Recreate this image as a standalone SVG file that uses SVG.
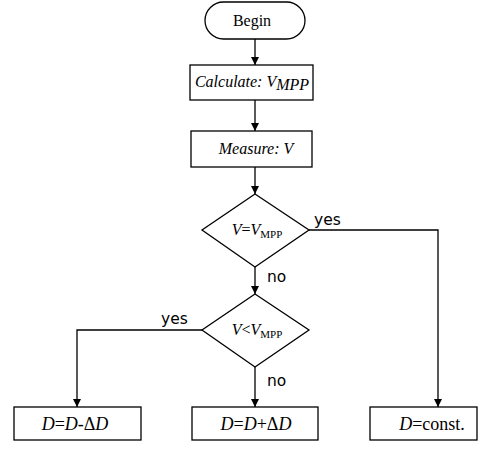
<svg xmlns="http://www.w3.org/2000/svg" width="501" height="450" viewBox="0 0 501 450">
<defs>
<marker id="ah" viewBox="0 0 10 10" refX="10" refY="5" markerWidth="8" markerHeight="8" markerUnits="userSpaceOnUse" orient="auto">
<path d="M0,0 L10,5 L0,10 z" fill="#000"/>
</marker>
<style>
.shape{fill:#fff;stroke:#000;stroke-width:1.3}
.edge{fill:none;stroke:#000;stroke-width:1.3;marker-end:url(#ah)}
.t{font-family:"Liberation Serif","Times New Roman",serif;font-size:16px;fill:#000}
.b{font-size:18px}
.i{font-style:italic}
.lbl{font-family:"DejaVu Sans",sans-serif;font-size:15.5px;fill:#000}
</style>
</defs>
<g id="connectors">
<line class="edge" x1="255" y1="39" x2="255" y2="65"/>
<line class="edge" x1="255" y1="100" x2="255" y2="131"/>
<line class="edge" x1="255" y1="167" x2="255" y2="194"/>
<line class="edge" x1="255" y1="267" x2="255" y2="294"/>
<line class="edge" x1="255" y1="367" x2="255" y2="407"/>
<polyline class="edge" points="309,230 438,230 438,407"/>
<polyline class="edge" points="202,330 77,330 77,407"/>
<text class="lbl" x="314" y="225">yes</text>
<text class="lbl" x="267" y="282">no</text>
<text class="lbl" x="161" y="324">yes</text>
<text class="lbl" x="267" y="386">no</text>
</g>
<g id="begin">
<rect class="shape" x="205" y="2" width="100" height="37" rx="18.5" ry="18.5"/>
<text class="t" x="252" y="26" text-anchor="middle" font-size="17">Begin</text>
</g>
<g id="calculate">
<rect class="shape" x="190" y="65" width="123" height="35"/>
<text class="t i" x="252" y="87" text-anchor="middle">Calculate: V<tspan dy="3">MPP</tspan></text>
</g>
<g id="measure">
<rect class="shape" x="191" y="131" width="121" height="36"/>
<text class="t i" x="256" y="154" text-anchor="middle">Measure: V</text>
</g>
<g id="cond1">
<polygon class="shape" points="255,194 309,230 255,267 202,230"/>
<text class="t" x="257" y="235" text-anchor="middle" font-size="15"><tspan class="i">V</tspan>=<tspan class="i">V</tspan><tspan font-size="11" dy="3">MPP</tspan></text>
</g>
<g id="cond2">
<polygon class="shape" points="255,294 309,330 255,367 202,330"/>
<text class="t" x="257" y="335" text-anchor="middle" font-size="15"><tspan class="i">V</tspan>&lt;<tspan class="i">V</tspan><tspan font-size="11" dy="3">MPP</tspan></text>
</g>
<g id="dec">
<rect class="shape" x="14" y="407" width="127" height="33"/>
<text class="t b" x="75" y="430" text-anchor="middle"><tspan class="i">D</tspan>=<tspan class="i">D</tspan>-Δ<tspan class="i">D</tspan></text>
</g>
<g id="inc">
<rect class="shape" x="192" y="407" width="126" height="33"/>
<text class="t b" x="256" y="430" text-anchor="middle"><tspan class="i">D</tspan>=<tspan class="i">D</tspan>+Δ<tspan class="i">D</tspan></text>
</g>
<g id="const">
<rect class="shape" x="370" y="407" width="107" height="33"/>
<text class="t b" x="432" y="430" text-anchor="middle"><tspan class="i">D</tspan>=const.</text>
</g>
</svg>
